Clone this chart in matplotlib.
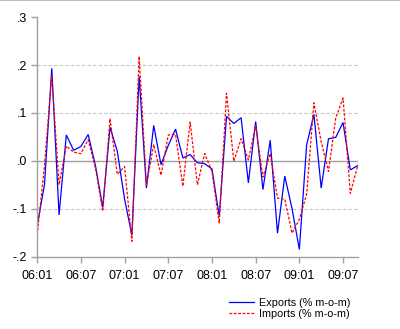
import matplotlib
matplotlib.use("Agg")
import matplotlib.pyplot as plt
from matplotlib.lines import Line2D

# Monthly growth rates, 2006:01 - 2009:09
months = [f"{y:02d}:{m:02d}" for y in range(6, 10) for m in range(1, 13)][:45]

exports = [-0.135, -0.05, 0.193, -0.113, 0.054, 0.022, 0.03, 0.055, -0.01, -0.097,
           0.07, 0.02, -0.08, -0.155, 0.176, -0.057, 0.074, -0.008, 0.032, 0.066,
           0.006, 0.013, -0.004, -0.006, -0.017, -0.116, 0.093, 0.078, 0.09, -0.046,
           0.082, -0.06, 0.043, -0.151, -0.032, -0.1, -0.185, 0.033, 0.097, -0.057,
           0.046, 0.049, 0.08, -0.019, -0.01]

imports = [-0.155, -0.01, 0.178, -0.05, 0.031, 0.018, 0.015, 0.044, -0.015, -0.105,
           0.088, -0.028, -0.012, -0.168, 0.218, -0.051, 0.034, -0.03, 0.054, 0.055,
           -0.053, 0.081, -0.05, 0.015, -0.022, -0.13, 0.141, -0.001, 0.046, 0.002,
           0.073, -0.034, 0.015, -0.078, -0.08, -0.151, -0.122, -0.07, 0.121, 0.04,
           -0.022, 0.09, 0.131, -0.068, -0.011]

xtick_labels = ["06:01", "06:07", "07:01", "07:07", "08:01", "08:07", "09:01", "09:07"]
ytick_values = [-0.2, -0.1, 0.0, 0.1, 0.2, 0.3]
ytick_labels = ["-.2", "-.1", ".0", ".1", ".2", ".3"]
series_labels = ["Exports (% m-o-m)", "Imports (% m-o-m)"]

plt.rcParams["font.family"] = ["Liberation Sans", "DejaVu Sans"]

fig = plt.figure(figsize=(4.0, 3.29), dpi=100)
ax = fig.add_axes([0.093, 0.22, 0.801, 0.728])

x = list(range(len(months)))
ax.plot(x, exports, color="#0000ff", lw=0.9, solid_joinstyle="miter")
ax.plot(x, imports, color="#ff0000", lw=0.9, linestyle=(0, (2.2, 1.3)))

ax.set_xlim(0, len(months) - 1)
ax.set_ylim(-0.2, 0.3)

ax.set_xticks([months.index(l) for l in xtick_labels])
ax.set_xticklabels(xtick_labels, fontsize=9)
ax.set_yticks(ytick_values)
ax.set_yticklabels(ytick_labels, fontsize=9)

for v in [-0.1, 0.1, 0.2]:
    ax.axhline(v, color="#c8c8c8", lw=0.8, linestyle=(0, (3, 2)), zorder=0)
ax.axhline(0.0, color="#a0a0a0", lw=1.0, zorder=0)

for s in ["top", "right"]:
    ax.spines[s].set_visible(False)
for s in ["left", "bottom"]:
    ax.spines[s].set_color("#a0a0a0")
    ax.spines[s].set_linewidth(1.0)

ax.tick_params(axis="both", direction="out", length=4.5, width=1.0,
               color="#a0a0a0", labelcolor="#000000")
ax.tick_params(axis="x", pad=5)
ax.tick_params(axis="y", pad=3)

# thin border line along the top of the figure
fig.add_artist(Line2D([0, 1], [0.9985, 0.9985], transform=fig.transFigure,
                      color="#b0b0b0", lw=1.2))

handles = [Line2D([], [], color="#0000ff", lw=0.9),
           Line2D([], [], color="#ff0000", lw=0.9, linestyle=(0, (2.2, 1.3)))]
fig.legend(handles, series_labels, loc="center left",
           bbox_to_anchor=(0.572, 0.0623), frameon=False, fontsize=7.8,
           handlelength=2.3, handletextpad=0.5, labelspacing=0.05,
           borderpad=0, borderaxespad=0)

fig.savefig("out.png", dpi=100, facecolor="white")
